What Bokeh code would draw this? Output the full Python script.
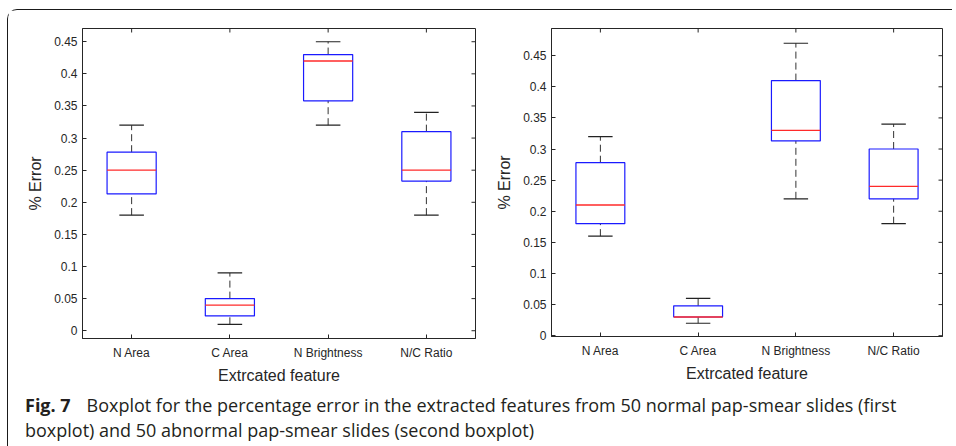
import math
from bokeh.plotting import figure
from bokeh.models import Range1d, FixedTicker, Label, ColumnDataSource
from bokeh.layouts import column, row
from bokeh.embed import file_html
from bokeh.resources import INLINE

# ---------------- data ----------------
features = ["N Area", "C Area", "N Brightness", "N/C Ratio"]

normal_low = [0.18, 0.01, 0.32, 0.18]
normal_q1 = [0.213, 0.023, 0.358, 0.233]
normal_med = [0.25, 0.04, 0.42, 0.25]
normal_q3 = [0.278, 0.05, 0.43, 0.31]
normal_high = [0.32, 0.09, 0.45, 0.34]

abnormal_low = [0.16, 0.02, 0.22, 0.18]
abnormal_q1 = [0.18, 0.03, 0.313, 0.22]
abnormal_med = [0.21, 0.03, 0.33, 0.24]
abnormal_q3 = [0.278, 0.048, 0.41, 0.30]
abnormal_high = [0.32, 0.06, 0.47, 0.34]

ytick_values = [0, 0.05, 0.1, 0.15, 0.2, 0.25, 0.3, 0.35, 0.4, 0.45]
ytick_labels = ["0", "0.05", "0.1", "0.15", "0.2", "0.25", "0.3", "0.35", "0.4", "0.45"]

x_label = "Extrcated feature"
y_label = "% Error"
caption_bold = "Fig. 7"
caption_line1 = "Boxplot for the percentage error in the extracted features from 50 normal pap-smear slides (first"
caption_line2 = "boxplot) and 50 abnormal pap-smear slides (second boxplot)"

positions = list(range(1, len(features) + 1))

TXT = "#262626"
FONT = "Liberation Sans"


def style_axis(ax):
    ax.axis_line_color = TXT
    ax.major_tick_line_color = TXT
    ax.major_tick_in = 4
    ax.major_tick_out = 0
    ax.minor_tick_line_color = None
    ax.major_label_text_font = FONT
    ax.major_label_text_color = TXT
    ax.major_label_text_font_size = "12px"
    ax.axis_label_text_font = FONT
    ax.axis_label_text_font_style = "normal"
    ax.axis_label_text_color = TXT
    ax.axis_label_text_font_size = "16px"


def make_box(low, q1, med, q3, high, yr, bl, bt, fw, fh, br, bb):
    p = figure(frame_width=fw, frame_height=fh, output_backend="svg",
               toolbar_location=None, x_range=Range1d(0.5, 4.5),
               y_range=Range1d(*yr), min_border_left=bl, min_border_top=bt,
               min_border_right=br, min_border_bottom=bb)
    p.grid.visible = False
    p.outline_line_color = TXT
    p.outline_line_width = 1
    p.background_fill_color = "white"
    p.border_fill_color = "white"

    p.xaxis.ticker = FixedTicker(ticks=positions)
    p.xaxis.major_label_overrides = {i: f for i, f in zip(positions, features)}
    p.yaxis.ticker = FixedTicker(ticks=ytick_values)
    p.yaxis.major_label_overrides = {v: s for v, s in zip(ytick_values, ytick_labels)}
    p.xaxis.axis_label = x_label
    p.yaxis.axis_label = y_label
    for ax in p.xaxis:
        style_axis(ax)
        ax.major_label_standoff = 7
        ax.axis_label_standoff = 4
    for ax in p.yaxis:
        style_axis(ax)
        ax.major_label_standoff = 5
        ax.axis_label_standoff = 7

    # mirrored inward ticks on the right and top edges (MATLAB box style)
    xr_end = p.x_range.end
    yr_end = p.y_range.end
    p.ray(x=[xr_end] * len(ytick_values), y=ytick_values, length=4, length_units="screen",
          angle=math.pi, line_color=TXT, line_width=1)
    p.ray(x=positions, y=[yr_end] * len(positions), length=4, length_units="screen",
          angle=-math.pi / 2, line_color=TXT, line_width=1)

    src = ColumnDataSource(dict(x=positions, low=low, q1=q1, med=med, q3=q3, high=high,
                                xl=[x - 0.25 for x in positions],
                                xr=[x + 0.25 for x in positions],
                                cl=[x - 0.125 for x in positions],
                                cr=[x + 0.125 for x in positions]))
    # whiskers
    p.segment(x0="x", y0="q3", x1="x", y1="high", source=src, line_color="#333333",
              line_width=1, line_dash="7 4")
    p.segment(x0="x", y0="low", x1="x", y1="q1", source=src, line_color="#333333",
              line_width=1, line_dash="7 4")
    # caps
    p.segment(x0="cl", y0="high", x1="cr", y1="high", source=src, line_color="#222222", line_width=1.2)
    p.segment(x0="cl", y0="low", x1="cr", y1="low", source=src, line_color="#222222", line_width=1.2)
    # boxes
    p.quad(left="xl", right="xr", bottom="q1", top="q3", source=src, fill_color=None,
           line_color="#1a1aff", line_width=1.2)
    # medians
    p.segment(x0="xl", y0="med", x1="xr", y1="med", source=src, line_color="#ff2a2a", line_width=1.3)
    return p


p1 = make_box(normal_low, normal_q1, normal_med, normal_q3, normal_high,
              (-0.0121, 0.4706), bl=74, bt=17, fw=393, fh=310, br=2, bb=44)
p2 = make_box(abnormal_low, abnormal_q1, abnormal_med, abnormal_q3, abnormal_high,
              (-0.0013, 0.4937), bl=74, bt=18, fw=391, fh=308, br=10, bb=45)

cap_w = 944
cap_h = 63
cap = figure(width=cap_w, height=cap_h, output_backend="svg", toolbar_location=None,
             x_range=Range1d(0, cap_w), y_range=Range1d(0, cap_h), min_border=0)
cap.axis.visible = False
cap.grid.visible = False
cap.outline_line_color = None
cap.add_layout(Label(x=16.5, y=43.5, x_units="screen", y_units="screen", text=caption_bold,
                     text_font="Open Sans", text_font_style="bold", text_font_size="18px",
                     text_color="#231f20", text_baseline="alphabetic"))
cap.add_layout(Label(x=78, y=43.5, x_units="screen", y_units="screen", text=caption_line1,
                     text_font="Open Sans", text_font_size="18px",
                     text_color="#231f20", text_baseline="alphabetic"))
cap.add_layout(Label(x=16.5, y=18.5, x_units="screen", y_units="screen", text=caption_line2,
                     text_font="Open Sans", text_font_size="18px",
                     text_color="#231f20", text_baseline="alphabetic"))

layout = column(row(p1, p2), cap,
                styles={"margin-left": "7px", "margin-top": "9px",
                        "border-top": "1.5px solid #1a1a1a",
                        "border-left": "1.5px solid #1a1a1a",
                        "border-top-left-radius": "10px",
                        "background": "white"})

open("out.html", "w").write(file_html(layout, INLINE))
